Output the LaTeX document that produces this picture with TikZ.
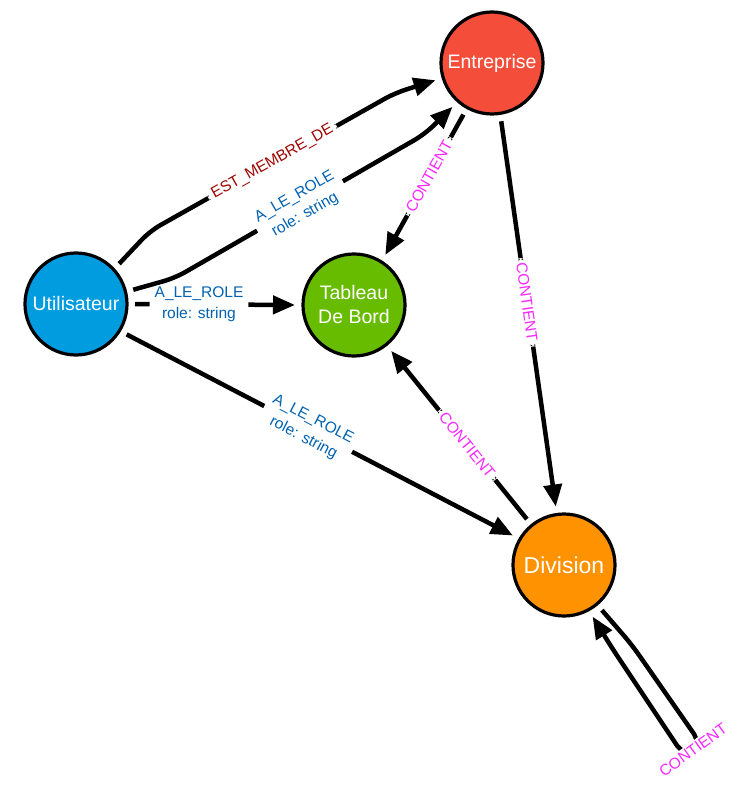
\documentclass[tikz,border=0pt]{standalone}
\usepackage{fontspec}
\setmainfont{Liberation Sans}
\usetikzlibrary{arrows.meta}
\definecolor{cuser}{HTML}{009CE0}
\definecolor{cent}{HTML}{F44E3B}
\definecolor{ctab}{HTML}{68BC00}
\definecolor{cdiv}{HTML}{FE9200}
\definecolor{cmem}{HTML}{9F0500}
\definecolor{crole}{HTML}{0062B1}
\definecolor{ccont}{HTML}{FA28FF}
\begin{document}
\begin{tikzpicture}[x=1pt,y=-1pt,
  ent/.style={circle, draw=black, line width=3.2pt, minimum size=102pt, inner sep=0pt,
    outer sep=8pt, text=white, font=\fontsize{19.5}{24}\selectfont, align=center},
  rel/.style={line width=4.5pt, -{Triangle[length=22pt,width=18pt]}, rounded corners=12pt},
  lab/.style={fill=white, inner xsep=5pt, inner ysep=2pt,
    font=\fontsize{15.5}{21}\selectfont, align=center},
  elab/.style={lab, sloped},
]
\useasboundingbox (0,0) rectangle (740,794);

\node[ent, fill=cuser] (u) at (76,304) {Utilisateur};
\node[ent, fill=cent] (e) at (492,63) {Entreprise};
\node[ent, fill=ctab] (t) at (354,305) {Tableau\\De Bord};
\node[ent, fill=cdiv, font=\fontsize{23}{28}\selectfont] (d) at (564,565) {Division};

% Utilisateur -> Entreprise
\draw[rel] (u.43) -- (150,231) -- node[elab, text=cmem] {EST\_MEMBRE\_DE} (395,93) -- (e.197);
\draw[rel] (u.14) -- (175,278) -- node[elab, text=crole] {A\_LE\_ROLE\\role: string} (425,134) -- (e.228);

% Utilisateur -> Tableau
\draw[rel] (u.0) -- node[elab, text=crole, pos=0.4] {A\_LE\_ROLE\\role: string} (t.180);

% Utilisateur -> Division
\draw[rel] (u.-31) -- node[elab, text=crole, pos=0.47] {A\_LE\_ROLE\\role: string} (d.150);

% Entreprise -> Tableau
\draw[rel] (e.241) -- node[elab, text=ccont, pos=0.44] {CONTIENT} (t.58);

% Entreprise -> Division
\draw[rel] (e.-81) -- node[elab, text=ccont, pos=0.47] {CONTIENT} (d.98);

% Division -> Tableau
\draw[rel] (d.129) -- node[elab, text=ccont, pos=0.44] {CONTIENT} (t.-51);

% Division -> Division
\draw[rel] (d.-50) -- (632,645) -- (701,744) -- (684,756) -- (612,648) -- (d.-61);
\node[lab, text=ccont, rotate=36] (loop) at (693,750) {CONTIENT};
\end{tikzpicture}
\end{document}
